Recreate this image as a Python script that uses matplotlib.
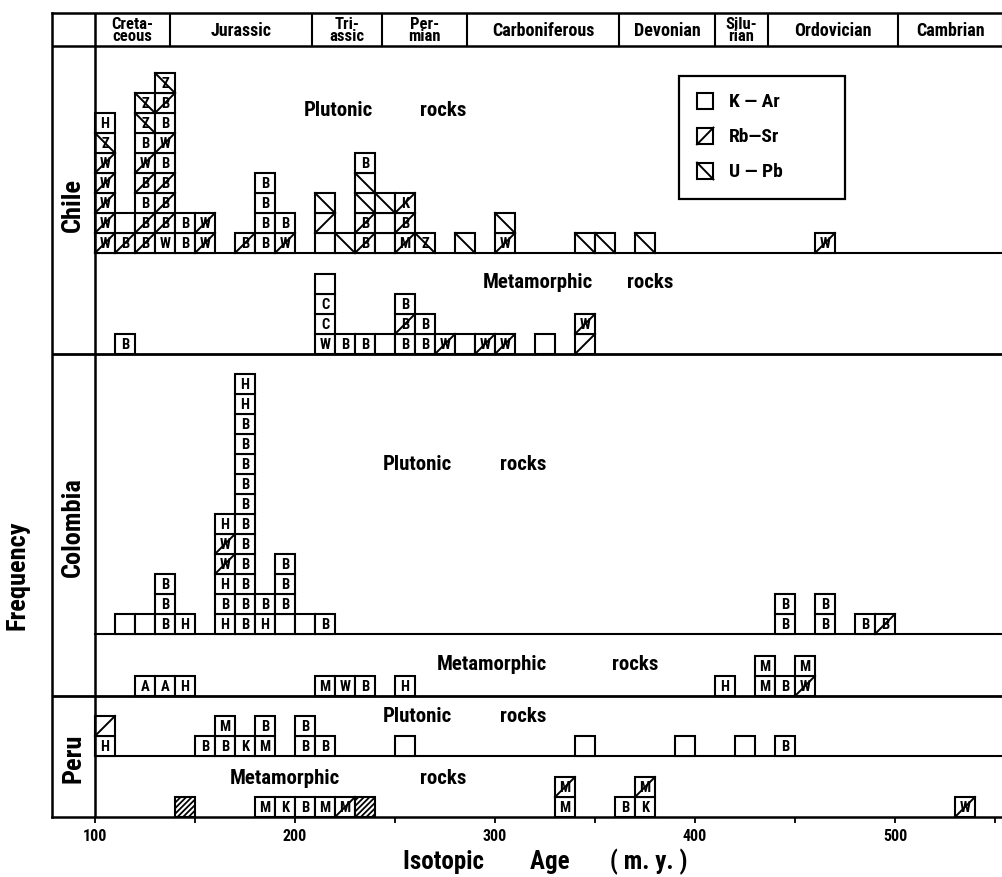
import matplotlib.pyplot as plt
from matplotlib import font_manager
from matplotlib.patches import Rectangle

# pick a narrow bold face if one is installed
installed = {f.name for f in font_manager.fontManager.ttflist}
FONT = [f for f in ['Liberation Sans Narrow', 'DejaVu Sans Condensed', 'Roboto Condensed']
        if f in installed] + ['DejaVu Sans']
plt.rcParams['font.family'] = FONT
plt.rcParams['font.weight'] = 'bold'
plt.rcParams['hatch.linewidth'] = 1.3
FS = 1.0 if FONT[0] != 'DejaVu Sans' else 0.8

# each stack is listed bottom -> top, token = letter + method
# method: K = K-Ar, R = Rb-Sr, U = U-Pb, X = hatched ; letter "-" = none
chile_plut_bins = [100, 110, 120, 130, 140, 150, 170, 180, 190, 210, 220,
                   230, 240, 250, 260, 280, 300, 340, 350, 370, 460]
chile_plut_stacks = ["WR WR WR WR WR ZU HK", "BR -K", "BR BR BK BR WR BK ZU ZU",
                     "WK BR BR BR BK WR BK BR ZU", "BK BK", "WR WR", "BR",
                     "BK BK BK BK", "WR BK", "-K -R -U", "-U", "BR BR -U -U BK",
                     "-K -K -U", "MR BR KR", "ZU", "-U", "WR -U", "-U", "-U", "-U", "WR"]

chile_meta_bins = [110, 210, 220, 230, 240, 250, 260, 270, 280, 290, 300, 320, 340]
chile_meta_stacks = ["BK", "WK CK CK -K", "BK", "BK", "-K", "BK BR BK", "BK BK",
                     "WR", "-K", "WR", "WR", "-K", "-R WR"]

col_plut_bins = [110, 120, 130, 140, 160, 170, 180, 190, 200, 210, 440, 460, 480, 490]
col_plut_stacks = ["-K", "-K", "BK BK BK", "HK", "HK BK HK WR WR HK",
                   "BK BK BK BK BK BK BK BK BK BK BK HK HK", "HK BK",
                   "-K BK BK BK", "-K", "BK", "BK BK", "BK BK", "BK", "BR"]

col_meta_bins = [120, 130, 140, 210, 220, 230, 250, 410, 430, 440, 450]
col_meta_stacks = ["AK", "AK", "HK", "MK", "WK", "BK", "HK", "HK", "MK MK", "BK", "WR MK"]

peru_plut_bins = [100, 150, 160, 170, 180, 200, 210, 250, 340, 390, 420, 440]
peru_plut_stacks = ["HK -R", "BK", "BK MK", "KK", "MK BK", "BK BK", "BK",
                    "-K", "-K", "-K", "-K", "BK"]

peru_meta_bins = [140, 180, 190, 200, 210, 220, 230, 330, 360, 370, 530]
peru_meta_stacks = ["-X", "MK", "KK", "BK", "MK", "MR", "-X", "MK MR", "BK", "KK MR", "WR"]

periods = ["Creta-\nceous", "Jurassic", "Tri-\nassic", "Per-\nmian", "Carboniferous",
           "Devonian", "Silu-\nrian", "Ordovician", "Cambrian"]
period_edges = [100, 137.5, 208.5, 243.5, 286, 362, 410, 436.5, 501.5, 554]

legend_names = ["K \u2014 Ar", "Rb\u2014Sr", "U \u2014 Pb"]
legend_methods = ["K", "R", "U"]

BIN_W = 10
BOX_H = 1.0
X0, X1 = 78.5, 554
TOP, HEAD = 40.2, 38.55


def draw_box(ax, x, y, letter, method, w=BIN_W, h=BOX_H):
    hatch = '//////' if method == 'X' else None
    ax.add_patch(Rectangle((x, y), w, h, facecolor='white', edgecolor='black',
                           lw=1.5, hatch=hatch, zorder=3))
    if method == 'R':
        ax.plot([x, x + w], [y, y + h], color='black', lw=1.4, zorder=4)
    elif method == 'U':
        ax.plot([x, x + w], [y + h, y], color='black', lw=1.4, zorder=4)
    if letter != '-':
        ax.text(x + w / 2, y + h / 2, letter, ha='center', va='center',
                fontsize=10.5 * FS, fontweight='bold', zorder=5)


def draw_panel(ax, base, bins, stacks):
    for b, stack in zip(bins, stacks):
        for level, tok in enumerate(stack.split()):
            draw_box(ax, b, base + level * BOX_H, tok[0], tok[1])


fig = plt.figure(figsize=(10.03, 8.78), dpi=100)
ax = fig.add_axes([52 / 1003, 60 / 878, 951 / 1003, 804 / 878])
ax.set_xlim(X0, X1)
ax.set_ylim(0, TOP)

panels = [
    (28.2, chile_plut_bins, chile_plut_stacks, [("Plutonic", 204.5), ("rocks", 262.5)], 35.4),
    (23.15, chile_meta_bins, chile_meta_stacks, [("Metamorphic", 294), ("rocks", 366)], 26.75),
    (9.15, col_plut_bins, col_plut_stacks, [("Plutonic", 244), ("rocks", 302.5)], 17.65),
    (6.05, col_meta_bins, col_meta_stacks, [("Metamorphic", 271), ("rocks", 358.5)], 7.65),
    (3.05, peru_plut_bins, peru_plut_stacks, [("Plutonic", 244), ("rocks", 302.5)], 5.05),
    (0.0, peru_meta_bins, peru_meta_stacks, [("Metamorphic", 167.5), ("rocks", 262.5)], 1.95),
]
for base, bins, stacks, words, ty in panels:
    draw_panel(ax, base, bins, stacks)
    for word, tx in words:
        ax.text(tx, ty, word, ha='left', va='center', fontsize=15 * FS, fontweight='bold')

# frame lines
ax.plot([100, 100], [0, TOP], color='black', lw=1.8, zorder=6)
ax.plot([X0, X1], [HEAD, HEAD], color='black', lw=1.8)
for y in [23.15, 6.05]:
    ax.plot([X0, X1], [y, y], color='black', lw=2.0, zorder=2)
for y in [28.2, 9.15, 3.05]:
    ax.plot([100, X1], [y, y], color='black', lw=1.5, zorder=2)

# header with geologic periods
for name, a, b in zip(periods, period_edges[:-1], period_edges[1:]):
    ax.plot([b, b], [HEAD, TOP], color='black', lw=1.5)
    ax.text((a + b) / 2, (HEAD + TOP) / 2, name, ha='center', va='center',
            fontsize=(13 if '\n' not in name else 12) * FS, fontweight='bold',
            linespacing=0.75)

# countries
for name, yc in [("Chile", 30.65), ("Colombia", 14.55), ("Peru", 3.0)]:
    ax.text(89, yc, name, rotation=90, ha='center', va='center',
            fontsize=19 * FS, fontweight='bold')

# legend
ax.add_patch(Rectangle((392, 30.9), 83, 6.15, facecolor='white', edgecolor='black',
                       lw=1.6, zorder=2))
for i, (name, m) in enumerate(zip(legend_names, legend_methods)):
    yc = 35.8 - i * 1.75
    draw_box(ax, 401, yc - 0.42, '-', m, w=8.2, h=0.84)
    ax.text(417, yc, name, ha='left', va='center', fontsize=14 * FS, fontweight='bold')

ax.set_xticks(range(100, 551, 50))
ax.set_xticklabels([str(t) if t % 100 == 0 else '' for t in range(100, 551, 50)],
                   fontsize=11.5 * FS, fontweight='bold')
ax.tick_params(axis='x', direction='out', length=4, width=1.3, pad=4)
ax.set_yticks([])
ax.spines['right'].set_visible(False)
for s in ['left', 'bottom', 'top']:
    ax.spines[s].set_linewidth(1.8)

fig.text(545 / 1003, 1 - 862 / 878, "Isotopic        Age       ( m. y. )", ha='center',
         va='center', fontsize=18 * FS, fontweight='bold')
fig.text(18 / 1003, 1 - 575 / 878, "Frequency", rotation=90, ha='center', va='center',
         fontsize=19 * FS, fontweight='bold')

fig.savefig("out.png", dpi=100, facecolor='white')
